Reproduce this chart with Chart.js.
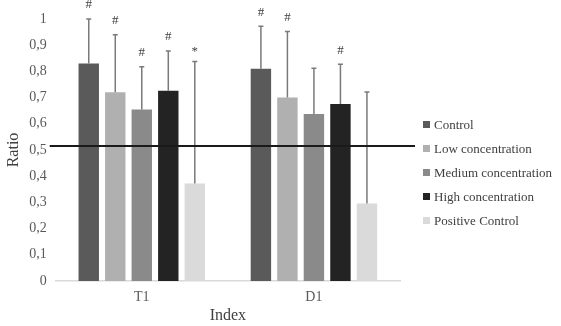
<!DOCTYPE html>
<html>
<head>
<meta charset="utf-8">
<script src="https://cdn.jsdelivr.net/npm/chart.js@4.4.0/dist/chart.umd.min.js"></script>
<style>
    html, body { margin: 0; padding: 0; background: #fff; }
    #wrap { position: relative; width: 561px; height: 326px; }
    #legend {
        position: absolute; left: 423px; top: 117px;
        font-family: "Liberation Serif", "DejaVu Serif", serif;
        font-size: 13px; color: #404040;
    }
    #legend div { height: 24px; line-height: 16px; white-space: nowrap; }
    #legend span.box { display: inline-block; width: 7px; height: 7px; margin-right: 4px; vertical-align: 1px; }
</style>
</head>
<body>
<div id="wrap">
    <canvas id="chart" width="561" height="326"></canvas>
    <div id="legend"></div>
</div>
<script>
// Categories and series
const categories = ['T1', 'D1'];
const seriesNames = ['Control', 'Low concentration', 'Medium concentration', 'High concentration', 'Positive Control'];
const seriesColors = ['#5a5a5a', '#b0b0b0', '#8a8a8a', '#232323', '#dadada'];

// Mean values per series (T1, D1)
const control = [0.83, 0.81];
const lowConc = [0.72, 0.70];
const mediumConc = [0.655, 0.637];
const highConc = [0.726, 0.676];
const positiveControl = [0.372, 0.296];

// Upper error (SD) per series (T1, D1)
const controlErr = [0.17, 0.162];
const lowErr = [0.22, 0.252];
const mediumErr = [0.163, 0.175];
const highErr = [0.152, 0.151];
const positiveErr = [0.466, 0.425];

// Significance marks above error bars
const controlMarks = ['#', '#'];
const lowMarks = ['#', '#'];
const mediumMarks = ['#', ''];
const highMarks = ['#', '#'];
const positiveMarks = ['*', ''];

// Reference line
const refValue = 0.515;

const yTicks = [0, 0.1, 0.2, 0.3, 0.4, 0.5, 0.6, 0.7, 0.8, 0.9, 1];

const values = [control, lowConc, mediumConc, highConc, positiveControl];
const errors = [controlErr, lowErr, mediumErr, highErr, positiveErr];
const marks = [controlMarks, lowMarks, mediumMarks, highMarks, positiveMarks];

const serif = '"Liberation Serif", "DejaVu Serif", serif';

// Error bars + marks plugin
const errorBarPlugin = {
    id: 'errorBars',
    afterDatasetsDraw(chart) {
        const ctx = chart.ctx;
        const y = chart.scales.y;
        ctx.save();
        chart.data.datasets.forEach((ds, di) => {
            const meta = chart.getDatasetMeta(di);
            meta.data.forEach((bar, i) => {
                const top = y.getPixelForValue(ds.data[i] + errors[di][i]);
                const base = y.getPixelForValue(ds.data[i]);
                ctx.strokeStyle = '#7a7a7a';
                ctx.lineWidth = 1.5;
                ctx.beginPath();
                ctx.moveTo(bar.x, base);
                ctx.lineTo(bar.x, top);
                ctx.moveTo(bar.x - 2.5, top);
                ctx.lineTo(bar.x + 2.5, top);
                ctx.stroke();
                if (marks[di][i]) {
                    ctx.fillStyle = '#404040';
                    ctx.font = '13px ' + serif;
                    ctx.textAlign = 'center';
                    ctx.textBaseline = 'middle';
                    ctx.fillText(marks[di][i], bar.x, top - (marks[di][i] === '*' ? 10 : 14));
                }
            });
        });
        ctx.restore();
    }
};

// Horizontal reference line plugin
const refLinePlugin = {
    id: 'refLine',
    afterDatasetsDraw(chart) {
        const ctx = chart.ctx;
        const area = chart.chartArea;
        const yPix = chart.scales.y.getPixelForValue(refValue);
        ctx.save();
        ctx.strokeStyle = '#1a1a1a';
        ctx.lineWidth = 2;
        ctx.beginPath();
        ctx.moveTo(area.left - 6, yPix);
        ctx.lineTo(area.right + 15, yPix);
        ctx.stroke();
        ctx.restore();
    }
};

new Chart(document.getElementById('chart'), {
    type: 'bar',
    data: {
        labels: categories,
        datasets: seriesNames.map((name, i) => ({
            label: name,
            data: values[i],
            backgroundColor: seriesColors[i],
            borderWidth: 0,
            barPercentage: 0.77,
            categoryPercentage: 0.77,
        })),
    },
    options: {
        responsive: false,
        animation: false,
        layout: { padding: { top: 19, right: 161, left: 0, bottom: 0 } },
        plugins: {
            legend: { display: false },
            tooltip: { enabled: false },
        },
        scales: {
            x: {
                grid: { display: false, drawTicks: false },
                border: { color: '#d9d9d9', width: 1.5 },
                ticks: { color: '#595959', font: { family: serif, size: 14 }, padding: 8 },
                title: { display: true, text: 'Index', color: '#404040', font: { family: serif, size: 16 }, padding: { top: -8, bottom: 1 } },
            },
            y: {
                min: 0,
                max: 1,
                afterBuildTicks: (axis) => { axis.ticks = yTicks.map(v => ({ value: v })); },
                grid: { display: false, drawTicks: false },
                border: { display: false },
                ticks: {
                    color: '#595959',
                    font: { family: serif, size: 14 },
                    padding: 9,
                    callback: (v) => String(Math.round(v * 10) / 10).replace('.', ','),
                },
                title: { display: true, text: 'Ratio', color: '#404040', font: { family: serif, size: 16 }, padding: { top: 4, bottom: -3 } },
            },
        },
    },
    plugins: [errorBarPlugin, refLinePlugin],
});

// HTML legend
const legendEl = document.getElementById('legend');
seriesNames.forEach((name, i) => {
    const row = document.createElement('div');
    const box = document.createElement('span');
    box.className = 'box';
    box.style.background = seriesColors[i];
    row.appendChild(box);
    row.appendChild(document.createTextNode(name));
    legendEl.appendChild(row);
});
</script>
</body>
</html>
